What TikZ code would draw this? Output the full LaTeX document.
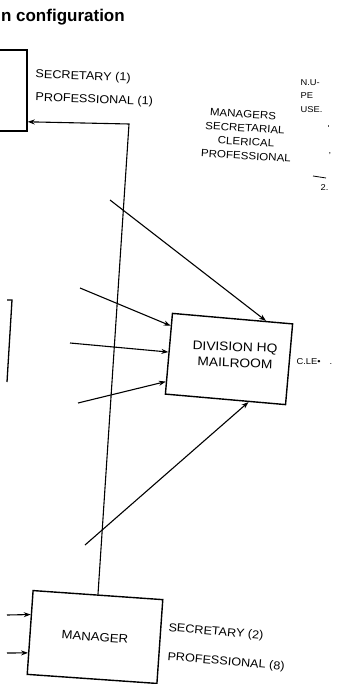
\documentclass[tikz,border=0pt]{standalone}
\usepackage{fontspec}
\usetikzlibrary{arrows.meta,calc}
\newfontfamily\labfont[FakeStretch=1.1]{Liberation Sans}
\newfontfamily\titlefont{Liberation Sans}
\begin{document}
\begin{tikzpicture}[x=1pt,y=-1pt,
  line width=1.1pt,
  box/.style={draw,line width=1.4pt,inner sep=0pt,align=center,font=\labfont\fontsize{12.5}{14}\selectfont},
  lbl/.style={inner sep=0pt,anchor=west,font=\labfont\fontsize{11.5}{13}\selectfont},
  leg/.style={inner sep=0pt,rotate=-3.5,font=\labfont\fontsize{10.5}{12}\selectfont},
  mrl/.style={inner sep=0pt,rotate=-2,font=\labfont\fontsize{12.5}{14}\selectfont},
  small/.style={inner sep=0pt,anchor=west,font=\labfont\fontsize{8.5}{9}\selectfont},
  arr/.style={-{Stealth[length=7pt,width=5pt]}},
  ]
\useasboundingbox (0,0) rectangle (339,684);
\fill[white] (0,0) rectangle (339,684);
\begin{scope}
\clip (0,0) rectangle (339,684);
% title
\node[anchor=base west, font=\titlefont\bfseries\fontsize{17}{20}\selectfont, inner sep=0pt] (title) at (0.5,22) {n configuration};
% top-left box (cropped)
\node[box, minimum width=80pt, minimum height=81pt] (sec1) at (-13,90.5) {};
\node[lbl, rotate=-2] (s1a) at (35,75) {SECRETARY (1)};
\node[lbl, rotate=-2] (s1b) at (35,98) {PROFESSIONAL (1)};
% right column legend
\node[leg] (lg1) at (243,114) {MANAGERS};
\node[leg] (lg2) at (245,128) {SECRETARIAL};
\node[leg] (lg3) at (246,142) {CLERICAL};
\node[leg] (lg4) at (246,156) {PROFESSIONAL};
\node[small] (g1) at (300,83) {N.U-};
\node[small] (g2) at (300,96) {PE};
\node[small] (g3) at (300,110) {USE.};
\node[small] (g4) at (327,129) {'};
\node[small] (g5) at (328,154) {,};
\draw[line width=0.8pt] (313,176) -- (326,178);
\node[small] (g6) at (320,188) {2.};
% left-middle box edge (cropped)
\draw[line width=1.3pt] (7,300) -- (12,300) -- (7,382);
% mailroom
\node[box, minimum width=120.6pt, minimum height=81pt, rotate=-5] (mr) at (229,359) {};
\node[mrl] (mrt1) at (235,348) {DIVISION HQ};
\node[mrl] (mrt2) at (235,363) {MAILROOM};
\node[small] (cl) at (296,362) {C.LE\textbullet};
\node[small] (cl2) at (329,364) {.};
% manager
\node[box, font=\labfont\fontsize{12}{14}\selectfont, minimum width=130pt, minimum height=84pt, rotate=-4] (mgr) at (95,637) {MANAGER};
\node[lbl, rotate=-5] (s2a) at (168,628) {SECRETARY (2)};
\node[lbl, rotate=-5] (s2b) at (167,657) {PROFESSIONAL (8)};
% long line from manager to top-left box
\coordinate (vt) at (129,124);
\draw[arr] (mgr.north) -- (vt) -- ($(sec1.south east)!0.12!(sec1.north east)$);
% arrows into mailroom
\coordinate (a1) at (110,200);
\coordinate (a2) at (80,288);
\coordinate (a3) at (70,343);
\coordinate (a4) at (78,403);
\coordinate (a5) at (85,545);
\draw[arr] (a1) -- ($(mr.north west)!0.775!(mr.north east)$);
\draw[arr] (a2) -- ($(mr.north west)!0.16!(mr.south west)$);
\draw[arr] (a3) -- ($(mr.north west)!0.48!(mr.south west)$);
\draw[arr] (a4) -- ($(mr.north west)!0.84!(mr.south west)$);
\draw[arr] (a5) -- ($(mr.south west)!0.69!(mr.south east)$);
% arrows into manager
\coordinate (m1) at (7,615);
\coordinate (m2) at (7,653);
\draw[arr] (m1) -- ($(mgr.north west)!0.29!(mgr.south west)$);
\draw[arr] (m2) -- ($(mgr.north west)!0.74!(mgr.south west)$);
\end{scope}
\end{tikzpicture}
\end{document}
